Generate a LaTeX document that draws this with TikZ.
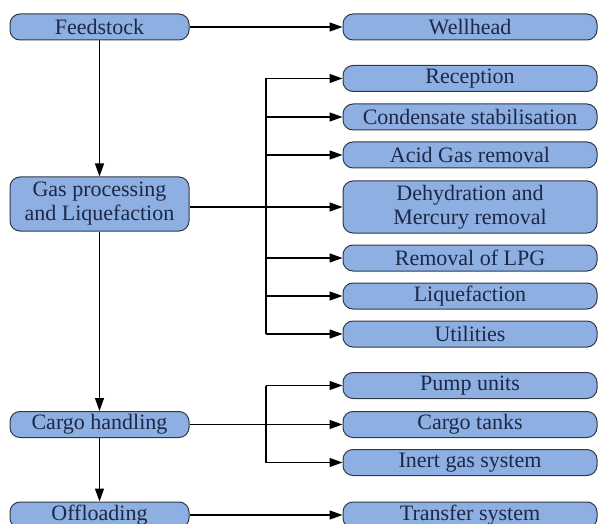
\documentclass[tikz,border=0pt]{standalone}
\usepackage{fontspec}
\setmainfont{Liberation Serif}
\usetikzlibrary{arrows.meta}
\definecolor{boxfill}{RGB}{141,175,225}
\definecolor{boxline}{RGB}{50,56,70}
\definecolor{txt}{RGB}{28,40,70}
\tikzset{
  pbox/.style={draw=boxline, fill=boxfill, rounded corners=10pt, line width=1pt,
    text=txt, align=center, inner sep=0pt, font=\fontsize{22}{24}\selectfont},
  lbox/.style={pbox, minimum width=179pt, minimum height=26pt},
  rbox/.style={pbox, minimum width=254pt, minimum height=26pt},
  conn/.style={line width=1.4pt, black},
  arr/.style={conn, -{Triangle[length=13pt,width=9pt]}}
}
\begin{document}
\begin{tikzpicture}[x=1pt,y=1pt]
\useasboundingbox (0,0) rectangle (600,-524);
% left column
\node[lbox] (feed) at (99.5,-27) {Feedstock};
\node[lbox, minimum height=54pt] (gas) at (99.5,-204) {Gas processing\\and Liquefaction};
\node[lbox] (cargo) at (99.5,-424.5) {Cargo handling};
\node[lbox] (off) at (99.5,-515) {Offloading};
% right column
\node[rbox] (well) at (470,-27) {Wellhead};
\node[rbox] (rec) at (470,-78.5) {Reception};
\node[rbox] (cond) at (470,-117) {Condensate stabilisation};
\node[rbox] (acid) at (470,-155) {Acid Gas removal};
\node[rbox, minimum height=52pt] (dehy) at (470,-207) {Dehydration and\\Mercury removal};
\node[rbox] (lpg) at (470,-258) {Removal of LPG};
\node[rbox] (liq) at (470,-296) {Liquefaction};
\node[rbox] (util) at (470,-334) {Utilities};
\node[rbox] (pump) at (470,-385.5) {Pump units};
\node[rbox] (tank) at (470,-424.5) {Cargo tanks};
\node[rbox] (inert) at (470,-462.5) {Inert gas system};
\node[rbox] (trans) at (470,-515) {Transfer system};
\coordinate (busx) at (266,0);
% vertical flow
\draw[arr] (feed) -- (gas);
\draw[arr] (gas) -- (cargo);
\draw[arr] (cargo) -- (off);
% horizontal
\draw[arr] (feed.east) -- (well.west);
\draw[arr] (gas.east |- dehy.west) -- (dehy.west);
\draw[conn] (busx |- rec.west) -- (busx |- util.west);
\foreach \n in {rec,cond,acid,lpg,liq,util} \draw[arr] (busx |- \n.west) -- (\n.west);
\draw[arr] (cargo.east) -- (tank.west);
\draw[conn] (busx |- pump.west) -- (busx |- inert.west);
\foreach \n in {pump,inert} \draw[arr] (busx |- \n.west) -- (\n.west);
\draw[arr] (off.east) -- (trans.west);
\end{tikzpicture}
\end{document}
